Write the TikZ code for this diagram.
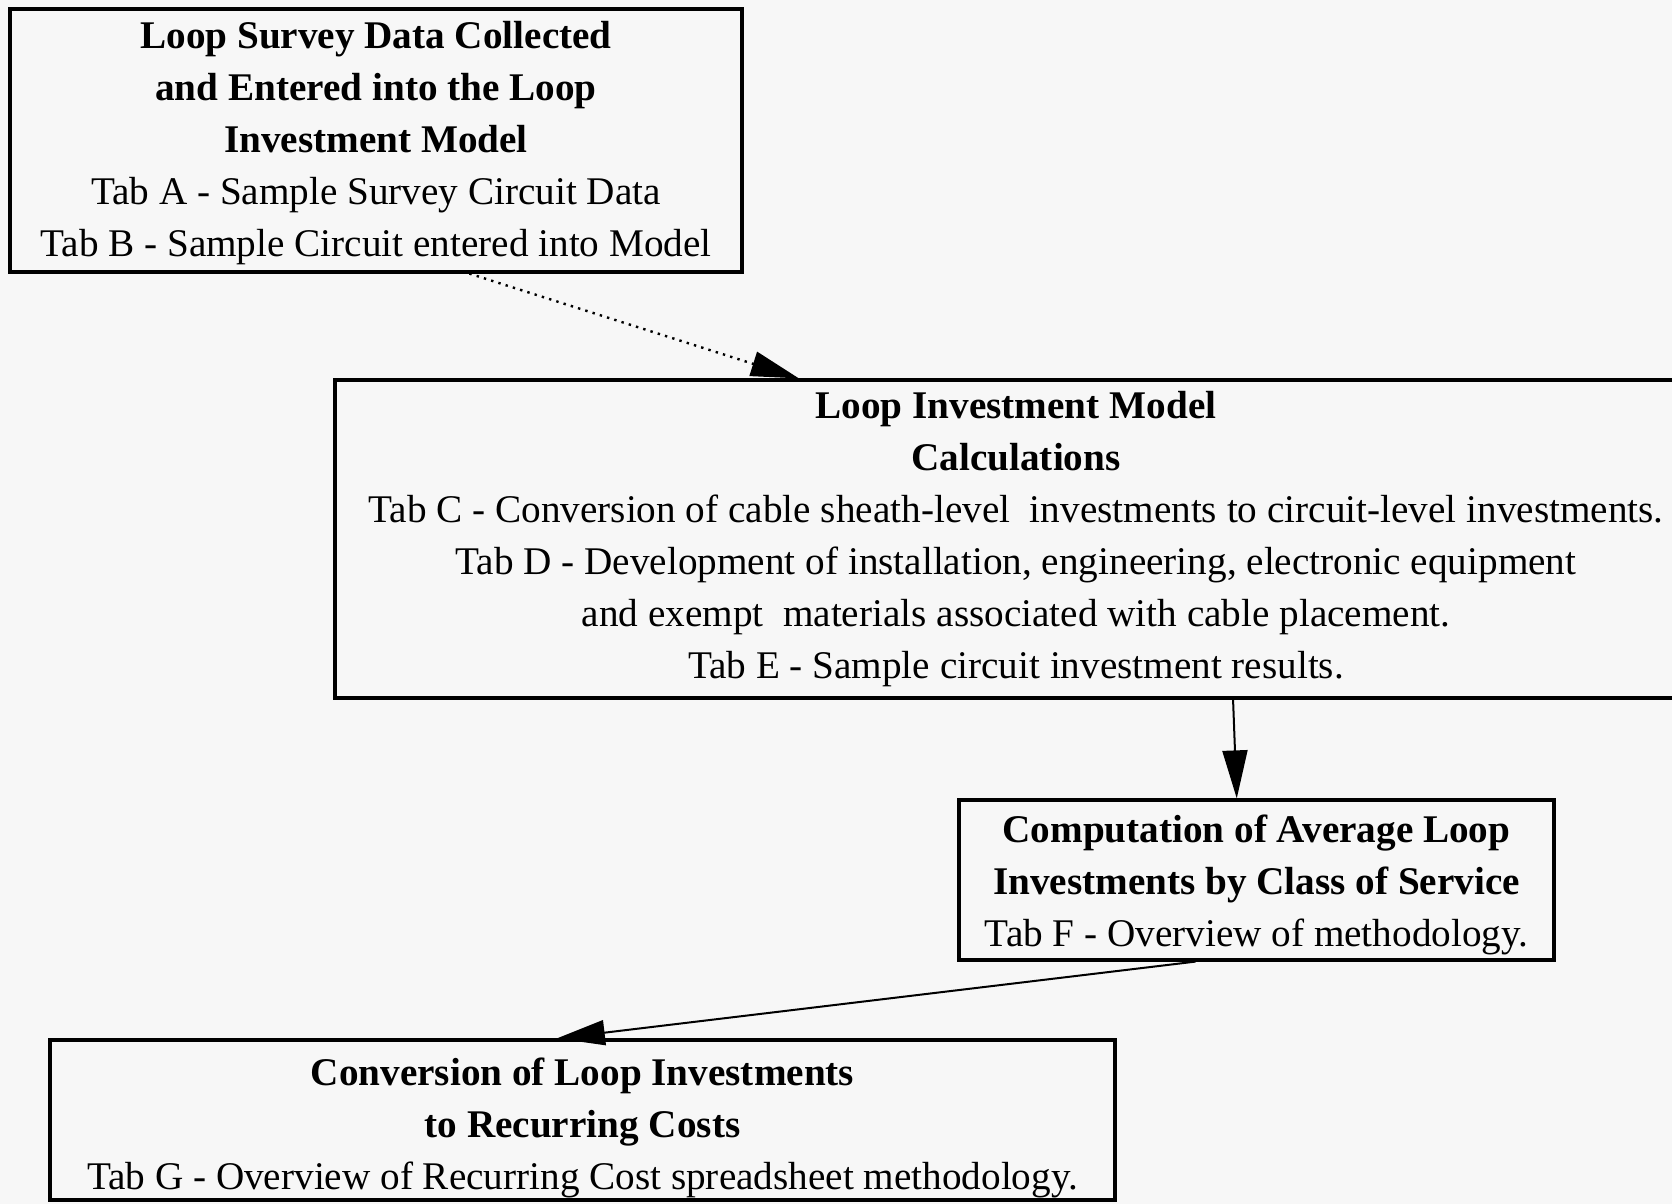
\documentclass[tikz,border=0pt]{standalone}
\usepackage{fontspec}
\setmainfont{Liberation Serif}
\usetikzlibrary{arrows.meta,calc}
\definecolor{paper}{RGB}{247,247,247}
\tikzset{
  stage/.style={draw=black, line width=1.6pt, inner sep=0pt, align=center,
    font=\fontsize{19.6}{26}\selectfont},
  flow/.style={line width=1pt, -{Triangle[length=24pt,width=12.5pt]}},
}
\begin{document}
\begin{tikzpicture}[x=0.5pt,y=-0.5pt]
\fill[paper] (0,0) rectangle (1672,1204);
\useasboundingbox (0,0) rectangle (1672,1204);

% process stages
\node[stage, minimum width=366pt, minimum height=131.5pt] (survey) at (376,140.5)
  {\rule{0pt}{16pt}\textbf{Loop Survey Data Collected}\\
   \textbf{and Entered into the Loop}\\
   \textbf{Investment Model}\\
   Tab A - Sample Survey Circuit Data\\
   Tab B - Sample Circuit entered into Model};

\node[stage, minimum width=681pt, minimum height=159pt] (model) at (1016,539)
  {\textbf{Loop Investment Model}\\
   \textbf{Calculations}\\
   Tab C - Conversion of cable sheath-level\ \ investments to circuit-level investments.\\
   Tab D - Development of installation, engineering, electronic equipment\\
   and exempt\ \ materials associated with cable placement.\\
   Tab E - Sample circuit investment results.};

\node[stage, minimum width=297.5pt, minimum height=80pt] (average) at (1256.5,880)
  {\rule{0pt}{18.5pt}\textbf{Computation of Average Loop}\\
   \textbf{Investments by Class of Service}\\
   Tab F - Overview of methodology.};

\node[stage, minimum width=532.5pt, minimum height=80pt] (recurring) at (582.5,1120)
  {\rule{0pt}{21.5pt}\textbf{Conversion of Loop Investments}\\
   \textbf{to Recurring Costs}\\
   Tab G - Overview of Recurring Cost spreadsheet methodology.};

% connectors
\draw[flow, line width=1.2pt, dash pattern=on 1.2pt off 2.6pt]
  ($(survey.south west)!0.627!(survey.south east)$) --
  ($(model.north west)!0.341!(model.north east)$);
\draw[flow]
  ($(model.south west)!0.659!(model.south east)$) --
  ($(average.north west)!0.467!(average.north east)$);
\draw[flow]
  ($(average.south west)!0.398!(average.south east)$) --
  ($(recurring.north west)!0.476!(recurring.north east)$);
\end{tikzpicture}
\end{document}
